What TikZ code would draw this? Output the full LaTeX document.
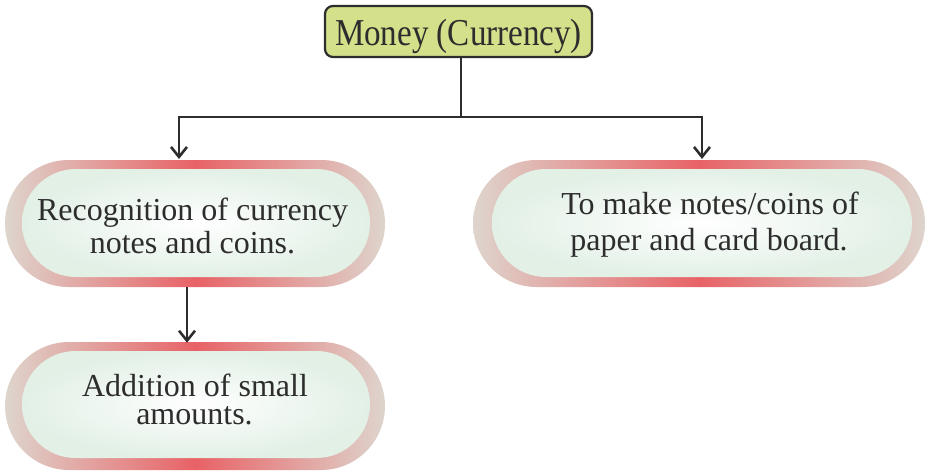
\documentclass[tikz,border=0pt]{standalone}
\usepackage{fontspec}
\setmainfont{Liberation Serif}
\usetikzlibrary{shapes.misc,arrows.meta}
\definecolor{ringred}{RGB}{232,98,102}
\definecolor{ringpale}{RGB}{222,213,205}
\definecolor{innergreen}{RGB}{226,240,230}
\definecolor{topfill}{RGB}{212,224,138}
\definecolor{ink}{RGB}{45,45,45}
\tikzset{
  ring/.style={rounded rectangle, inner sep=0pt, left color=ringpale, right color=ringpale, middle color=ringred, draw=none},
  core/.style={rounded rectangle, inner sep=0pt, inner color=white, outer color=innergreen, draw=none},
  txt/.style={anchor=base, inner sep=0pt, text=ink, font=\fontsize{32}{36}\selectfont},
  topbox/.style={rectangle, rounded corners=8pt, draw=ink, line width=2.2pt, fill=topfill, inner sep=0pt},
  toptxt/.style={anchor=base, inner sep=0pt, text=ink, xscale=0.87, font=\fontsize{38}{42}\selectfont},
  conn/.style={draw=ink, line width=2.5pt},
  arr/.style={conn, -{Straight Barb[length=10pt,width=16pt,line width=2.6pt]}}
}
\begin{document}
\begin{tikzpicture}[x=1pt,y=-1pt]
\useasboundingbox (0,0) rectangle (930,472);
% top
\node[topbox, minimum width=267pt, minimum height=51pt] (top) at (458.5,31.5) {};
\node[toptxt] (topT) at (458.5,45.5) {Money (Currency)};
% left box
\node[ring, minimum width=380pt, minimum height=127pt] (recR) at (195,223.5) {};
\node[core, minimum width=348pt, minimum height=108pt] (rec) at (196,223) {};
\node[txt] (recT1) at (192.5,220.5) {Recognition of currency};
\node[txt] (recT2) at (192.5,253) {notes and coins.};
% right box
\node[ring, minimum width=452pt, minimum height=127pt] (makeR) at (699,223.5) {};
\node[core, minimum width=420pt, minimum height=108pt] (make) at (702,223) {};
\node[txt] (makeT1) at (710,214) {To make notes/coins of};
\node[txt] (makeT2) at (709,250) {paper and card board.};
% bottom box
\node[ring, minimum width=380pt, minimum height=128pt] (addR) at (195,406) {};
\node[core, minimum width=348pt, minimum height=107pt] (add) at (196,404.5) {};
\node[txt] (addT1) at (195,396) {Addition of small};
\node[txt] (addT2) at (194.5,424) {amounts.};
% connectors
\coordinate (j) at (461,117);
\coordinate (aL) at (179,159);
\coordinate (aR) at (702,159);
\draw[conn] (top.south -| j) -- (j);
\draw[arr] (j) -| (aL);
\draw[arr] (j) -| (aR);
\draw[arr] ([xshift=-8pt]recR.south) -- ([xshift=-8pt,yshift=-1pt]addR.north);
\end{tikzpicture}
\end{document}
